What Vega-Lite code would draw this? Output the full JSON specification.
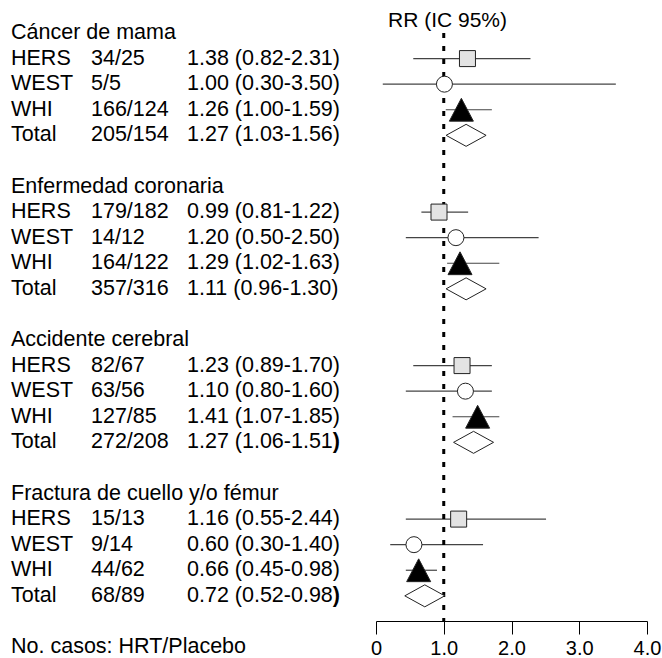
{
  "$schema": "https://vega.github.io/schema/vega-lite/v6.json",
  "width": 662,
  "height": 621,
  "padding": 0,
  "autosize": {"type": "pad"},
  "background": "white",
  "config": {"view": {"stroke": null}, "font": "Liberation Sans"},
  "title": {"text": "RR (IC 95%)", "anchor": "start", "frame": "group", "dx": 388, "offset": -31, "font": "Liberation Sans", "fontSize": 21, "fontWeight": "normal", "color": "#000"},
  "datasets": {
    "rows": [
      {"group": "Cáncer de mama", "study": "HERS", "cases": "34/25", "rr": "1.38 (0.82-2.31)", "est": 1.35, "lo": 0.55, "hi": 2.28},
      {"group": "Cáncer de mama", "study": "WEST", "cases": "5/5", "rr": "1.00 (0.30-3.50)", "est": 1.01, "lo": 0.10, "hi": 3.54},
      {"group": "Cáncer de mama", "study": "WHI", "cases": "166/124", "rr": "1.26 (1.00-1.59)", "est": 1.26, "lo": 1.03, "hi": 1.71},
      {"group": "Cáncer de mama", "study": "Total", "cases": "205/154", "rr": "1.27 (1.03-1.56)", "est": 1.33, "lo": 1.04, "hi": 1.62},
      {"group": "Enfermedad coronaria", "study": "HERS", "cases": "179/182", "rr": "0.99 (0.81-1.22)", "est": 0.93, "lo": 0.67, "hi": 1.36},
      {"group": "Enfermedad coronaria", "study": "WEST", "cases": "14/12", "rr": "1.20 (0.50-2.50)", "est": 1.18, "lo": 0.44, "hi": 2.40},
      {"group": "Enfermedad coronaria", "study": "WHI", "cases": "164/122", "rr": "1.29 (1.02-1.63)", "est": 1.24, "lo": 1.05, "hi": 1.82},
      {"group": "Enfermedad coronaria", "study": "Total", "cases": "357/316", "rr": "1.11 (0.96-1.30)", "est": 1.33, "lo": 1.04, "hi": 1.62},
      {"group": "Accidente cerebral", "study": "HERS", "cases": "82/67", "rr": "1.23 (0.89-1.70)", "est": 1.27, "lo": 0.55, "hi": 1.71},
      {"group": "Accidente cerebral", "study": "WEST", "cases": "63/56", "rr": "1.10 (0.80-1.60)", "est": 1.32, "lo": 0.44, "hi": 1.71},
      {"group": "Accidente cerebral", "study": "WHI", "cases": "127/85", "rr": "1.41 (1.07-1.85)", "est": 1.50, "lo": 1.13, "hi": 1.82},
      {"group": "Accidente cerebral", "study": "Total", "cases": "272/208", "rr": "1.27 (1.06-1.51)", "est": 1.44, "lo": 1.15, "hi": 1.73},
      {"group": "Fractura de cuello y/o fémur", "study": "HERS", "cases": "15/13", "rr": "1.16 (0.55-2.44)", "est": 1.22, "lo": 0.44, "hi": 2.51},
      {"group": "Fractura de cuello y/o fémur", "study": "WEST", "cases": "9/14", "rr": "0.60 (0.30-1.40)", "est": 0.56, "lo": 0.21, "hi": 1.58},
      {"group": "Fractura de cuello y/o fémur", "study": "WHI", "cases": "44/62", "rr": "0.66 (0.45-0.98)", "est": 0.63, "lo": 0.44, "hi": 0.90},
      {"group": "Fractura de cuello y/o fémur", "study": "Total", "cases": "68/89", "rr": "0.72 (0.52-0.98)", "est": 0.72, "lo": 0.43, "hi": 1.01}
    ],
    "heads": [
      {"key": "Cáncer de mama"},
      {"key": "Enfermedad coronaria"},
      {"key": "Accidente cerebral"},
      {"key": "Fractura de cuello y/o fémur"},
      {"key": "No. casos: HRT/Placebo"}
    ]
  },
  "data": {"name": "rows"},
  "transform": [
    {"calculate": "datum.group + '|' + datum.study", "as": "key"},
    {"calculate": "datum.study == 'Total' && (datum.group == 'Accidente cerebral' || datum.group == 'Fractura de cuello y/o fémur')", "as": "boldParen"}
  ],
  "encoding": {
    "y": {
      "field": "key",
      "type": "nominal",
      "axis": null,
      "scale": {
        "type": "point",
        "padding": 0,
        "range": [33, 647],
        "domain": [
          "Cáncer de mama", "Cáncer de mama|HERS", "Cáncer de mama|WEST", "Cáncer de mama|WHI", "Cáncer de mama|Total", "gap1",
          "Enfermedad coronaria", "Enfermedad coronaria|HERS", "Enfermedad coronaria|WEST", "Enfermedad coronaria|WHI", "Enfermedad coronaria|Total", "gap2",
          "Accidente cerebral", "Accidente cerebral|HERS", "Accidente cerebral|WEST", "Accidente cerebral|WHI", "Accidente cerebral|Total", "gap3",
          "Fractura de cuello y/o fémur", "Fractura de cuello y/o fémur|HERS", "Fractura de cuello y/o fémur|WEST", "Fractura de cuello y/o fémur|WHI", "Fractura de cuello y/o fémur|Total", "gap4",
          "No. casos: HRT/Placebo"
        ]
      }
    }
  },
  "layer": [
    {
      "layer": [
        {
          "transform": [
            {"fold": ["study", "cases", "rr"], "as": ["col", "txt"]},
            {"calculate": "indexof(['study','cases','rr'], datum.col)", "as": "ci"},
            {"calculate": "datum.boldParen && datum.col == 'rr' ? slice(datum.txt, 0, length(datum.txt) - 1) : datum.txt", "as": "shown"}
          ],
          "mark": {"type": "text", "align": "left", "baseline": "middle", "font": "Liberation Sans", "fontSize": 21.5, "color": "#000"},
          "encoding": {
            "x": {"field": "ci", "type": "quantitative", "axis": null, "scale": {"domain": [0, 1, 2, 3], "range": [11, 91, 187, 332.8], "zero": false, "nice": false}},
            "text": {"field": "shown"}
          }
        },
        {
          "data": {"name": "heads"},
          "mark": {"type": "text", "align": "left", "baseline": "middle", "font": "Liberation Sans", "fontSize": 21.5, "color": "#000"},
          "encoding": {
            "x": {"datum": 0, "type": "quantitative"},
            "text": {"field": "key"}
          }
        },
        {
          "transform": [{"filter": "datum.boldParen"}],
          "mark": {"type": "text", "align": "left", "baseline": "middle", "font": "Liberation Sans", "fontSize": 21.5, "fontWeight": "bold", "color": "#000"},
          "encoding": {
            "x": {"datum": 3, "type": "quantitative"},
            "text": {"value": ")"}
          }
        }
      ]
    },
    {
      "layer": [
        {
          "transform": [{"filter": "datum.study != 'Total'"}],
          "mark": {"type": "rule", "color": "#444", "strokeWidth": 1.2},
          "encoding": {
            "x": {
              "field": "lo", "type": "quantitative",
              "scale": {"domain": [0, 4], "range": [376, 647], "zero": false, "nice": false},
              "axis": {
                "orient": "bottom",
                "values": [0, 1, 2, 3, 4],
                "labelExpr": "datum.value == 0 ? '0' : format(datum.value, '.1f')",
                "grid": false, "title": null,
                "domainColor": "#000", "domainWidth": 1,
                "tickColor": "#000", "tickSize": 13, "tickWidth": 1,
                "labelFont": "Liberation Sans", "labelFontSize": 20, "labelColor": "#000",
                "labelFlush": false, "labelOverlap": false, "labelPadding": 4
              }
            },
            "x2": {"field": "hi"}
          }
        },
        {
          "data": {"values": [{"ref": 1}]},
          "mark": {"type": "rule", "color": "#000", "strokeWidth": 3, "strokeDash": [5, 8]},
          "encoding": {
            "x": {"field": "ref", "type": "quantitative"},
            "y": {"datum": "Cáncer de mama"},
            "y2": {"datum": "gap4"}
          }
        },
        {
          "mark": {"type": "point", "filled": true, "opacity": 1, "stroke": "#222", "strokeWidth": 1},
          "encoding": {
            "x": {"field": "est", "type": "quantitative"},
            "shape": {"field": "study", "type": "nominal", "legend": null, "scale": {"domain": ["HERS", "WEST", "WHI", "Total"], "range": ["square", "circle", "M0,-0.95L1,0.95L-1,0.95Z", "M-1,0L0,-0.55L1,0L0,0.55Z"]}},
            "fill": {"field": "study", "type": "nominal", "legend": null, "scale": {"domain": ["HERS", "WEST", "WHI", "Total"], "range": ["#e3e3e3", "#ffffff", "#000000", "#ffffff"]}},
            "size": {
              "condition": [
                {"test": "datum.study == 'WHI'", "value": 576},
                {"test": "datum.study == 'Total'", "value": 1600}
              ],
              "value": 256
            }
          }
        }
      ]
    }
  ],
  "resolve": {"scale": {"x": "independent"}}
}
